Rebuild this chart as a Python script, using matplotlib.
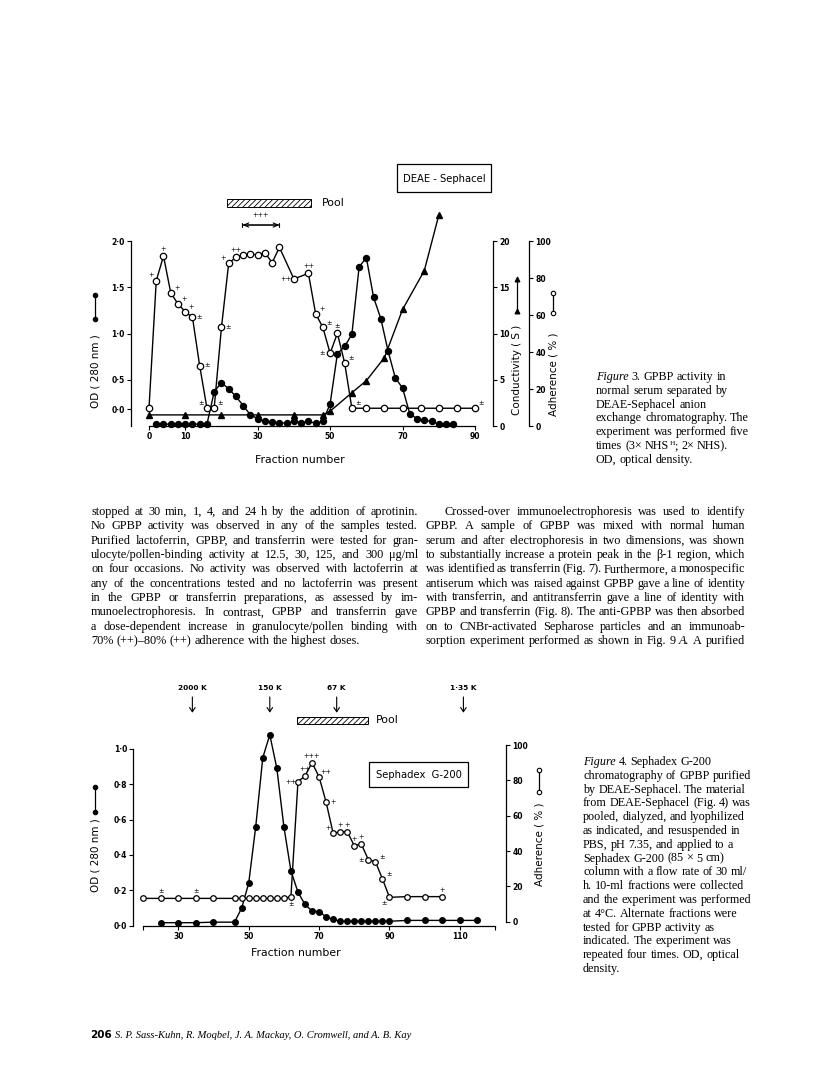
import matplotlib
matplotlib.use("Agg")
import matplotlib.pyplot as plt
from matplotlib.patches import Rectangle
from matplotlib.lines import Line2D

W, H = 816, 1078

# ---------------- Figure 3 : DEAE-Sephacel ----------------
f3_od_x = [2, 4, 6, 8, 10, 12, 14, 16, 18, 20, 22, 24, 26, 28, 30, 32, 34, 36, 38, 40, 42,
           44, 46, 48, 50, 52, 54, 56, 58, 60, 62, 64, 66, 68, 70, 72, 74, 76, 78, 80, 82, 84]
f3_od_y = [0.02, 0.02, 0.02, 0.02, 0.02, 0.02, 0.02, 0.02, 0.37, 0.47, 0.40, 0.32, 0.22, 0.12,
           0.08, 0.05, 0.04, 0.035, 0.03, 0.05, 0.035, 0.05, 0.03, 0.05, 0.24, 0.78, 0.86, 0.99,
           1.72, 1.82, 1.39, 1.16, 0.81, 0.52, 0.41, 0.13, 0.08, 0.06, 0.05, 0.02, 0.02, 0.02]

f3_cond_x = [0, 10, 20, 30, 40, 48, 50, 56, 60, 65, 70, 76, 80]
f3_cond_y = [1.2, 1.2, 1.2, 1.2, 1.2, 1.2, 1.6, 3.6, 4.9, 7.4, 12.6, 16.8, 22.8]

f3_adh_x = [0, 2, 4, 6, 8, 10, 12, 14, 16, 18, 20, 22, 24, 26, 28, 30, 32, 34, 36, 40, 44,
            46, 48, 50, 52, 54, 56, 60, 65, 70, 75, 80, 85, 90]
f3_adh_y = [9.6, 78.5, 91.9, 72, 66, 61.8, 58.7, 32.4, 9.6, 9.9, 53.3, 88, 91.2, 92.3, 92.8,
            92.6, 93.7, 88.3, 96.6, 79.5, 82.5, 60.7, 53.3, 39.3, 50.1, 34.2, 9.6, 9.6, 9.6,
            9.6, 9.6, 9.6, 9.6, 9.6]
f3_adh_sig = ['', '+', '+', '+', '+', '+', '±', '±', '±', '±', '±', '+', '++', '', '', '', '',
              '', '', '++', '++', '+', '±', '±', '±', '±', '±', '', '', '', '', '', '', '±']
f3_sig_pos = ['', 'ul', 'u', 'ur', 'ur', 'ur', 'r', 'r', 'ul', 'ur', 'r', 'ul', 'u', '', '', '',
              '', '', '', 'l', 'u', 'ur', 'ur', 'l', 'u', 'ur', 'ur', '', '', '', '', '', '', 'ur']
f3_xticks = [0, 10, 30, 50, 70, 90]
f3_pool = (21.6, 44.6)
f3_best = (25.8, 36)

# ---------------- Figure 4 : Sephadex G-200 ----------------
f4_od_x = [25, 30, 35, 40, 46, 48, 50, 52, 54, 56, 58, 60, 62, 64, 66, 68, 70, 72, 74, 76, 78,
           80, 82, 84, 86, 88, 90, 95, 100, 105, 110, 115]
f4_od_y = [0.017, 0.017, 0.017, 0.02, 0.02, 0.10, 0.24, 0.56, 0.95, 1.08, 0.89, 0.56, 0.31,
           0.19, 0.12, 0.083, 0.08, 0.05, 0.036, 0.025, 0.025, 0.025, 0.025, 0.025, 0.025,
           0.025, 0.025, 0.03, 0.03, 0.03, 0.03, 0.03]

f4_adh_x = [20, 25, 30, 35, 40, 46, 48, 50, 52, 54, 56, 58, 60, 62, 64, 66, 68, 70, 72, 74, 76,
            78, 80, 82, 84, 86, 88, 90, 95, 100, 105]
f4_adh_y = [13.2, 13.2, 13.2, 13.2, 13.2, 13.2, 13.2, 13.2, 13.2, 13.2, 13.2, 13.2, 13.2, 14.2,
            79.2, 82.5, 90, 82, 67.6, 50, 51, 51, 43, 44, 35, 34, 24.2, 13.8, 14.2, 14.2, 14.2]
f4_adh_sig = ['', '±', '', '±', '', '', '', '', '', '', '', '', '', '±', '++', '++', '+++',
              '++', '+', '+', '+', '+', '+', '+', '±', '±', '±', '±', '', '', '+']
f4_sig_pos = ['', 'u', '', 'u', '', '', '', '', '', '', '', '', '', 'd', 'l', 'u', 'u', 'ur',
              'r', 'ul', 'u', 'u', 'u', 'u', 'l', 'ur', 'ur', 'dl', '', '', 'u']
f4_xticks = [30, 50, 70, 90, 110]
f4_mw_x = [34, 56, 75, 111]
f4_mw_lab = ['2000 K', '150 K', '67 K', '1·35 K']
f4_pool = (63.7, 83.9)

# ---------------- page text ----------------
left_col = [
    "stopped at 30 min, 1, 4, and 24 h by the addition of aprotinin.",
    "No GPBP activity was observed in any of the samples tested.",
    "Purified lactoferrin, GPBP, and transferrin were tested for gran-",
    "ulocyte/pollen-binding activity at 12.5, 30, 125, and 300 μg/ml",
    "on four occasions. No activity was observed with lactoferrin at",
    "any of the concentrations tested and no lactoferrin was present",
    "in the GPBP or transferrin preparations, as assessed by im-",
    "munoelectrophoresis. In contrast, GPBP and transferrin gave",
    "a dose-dependent increase in granulocyte/pollen binding with",
    "70% (++)–80% (++) adherence with the highest doses.",
]
right_col = [
    "Crossed-over immunoelectrophoresis was used to identify",
    "GPBP. A sample of GPBP was mixed with normal human",
    "serum and after electrophoresis in two dimensions, was shown",
    "to substantially increase a protein peak in the β-1 region, which",
    "was identified as transferrin (Fig. 7). Furthermore, a monospecific",
    "antiserum which was raised against GPBP gave a line of identity",
    "with transferrin, and antitransferrin gave a line of identity with",
    "GPBP and transferrin (Fig. 8). The anti-GPBP was then absorbed",
    "on to CNBr-activated Sepharose particles and an immunoab-",
    "sorption experiment performed as shown in Fig. 9 _A. A purified",
]
cap3 = [
    "_Figure 3. GPBP activity in",
    "normal serum separated by",
    "DEAE-Sephacel anion",
    "exchange chromatography. The",
    "experiment was performed five",
    "times (3× NHS^H; 2× NHS).",
    "OD, optical density.",
]
cap4 = [
    "_Figure 4. Sephadex G-200",
    "chromatography of GPBP purified",
    "by DEAE-Sephacel. The material",
    "from DEAE-Sephacel (Fig. 4) was",
    "pooled, dialyzed, and lyophilized",
    "as indicated, and resuspended in",
    "PBS, pH 7.35, and applied to a",
    "Sephadex G-200 (85 × 5 cm)",
    "column with a flow rate of 30 ml/",
    "h. 10-ml fractions were collected",
    "and the experiment was performed",
    "at 4°C. Alternate fractions were",
    "tested for GPBP activity as",
    "indicated. The experiment was",
    "repeated four times. OD, optical",
    "density.",
]
footer = "S. P. Sass-Kuhn, R. Moqbel, J. A. Mackay, O. Cromwell, and A. B. Kay"

SANS = "DejaVu Sans"
SERIF = "Liberation Serif"
plt.rcParams["hatch.linewidth"] = 0.6
plt.rcParams["font.family"] = SANS

fig = plt.figure(figsize=(W / 100, H / 100), dpi=100)
renderer = fig.canvas.get_renderer()


def T(px, py, s, **kw):
    return fig.text(px / W, 1 - py / H, s, **kw)


def add_ax(l, t, r, b):
    return fig.add_axes([l / W, 1 - b / H, (r - l) / W, (b - t) / H])


def width(s, **kw):
    t = T(0, 0, s, **kw)
    w = t.get_window_extent(renderer).width
    t.remove()
    return w


def symbol(px, py0, py1, marker, mfc, ms):
    fig.add_artist(Line2D([px / W, px / W], [1 - py0 / H, 1 - py1 / H], transform=fig.transFigure,
                          color="k", lw=0.9, marker=marker, mfc=mfc, mec="k", ms=ms, mew=0.8))


def box(l, t, r, b, label):
    fig.add_artist(Rectangle((l / W, 1 - b / H), (r - l) / W, (b - t) / H, fill=False,
                             lw=0.9, ec="k", transform=fig.transFigure))
    T((l + r) / 2, (t + b) / 2 + 1, label, ha="center", va="center", fontsize=7.2)


OFF = {"u": (0, 5), "ul": (-4, 4), "ur": (4.5, 3.5), "r": (5, 0.5), "l": (-5.5, 0),
       "d": (0, -5.5), "dl": (-4, -4)}


def signif(ax, xs, ys, marks, pos):
    for x, y, m, p in zip(xs, ys, marks, pos):
        if m:
            ax.annotate(m, (x, y), xytext=OFF[p], textcoords="offset points", fontsize=4.8,
                        ha="center", va="center", annotation_clip=False)


def style_ax(ax):
    for s in ax.spines.values():
        s.set_linewidth(0.9)
    ax.tick_params(direction="out", length=3, width=0.8, labelsize=5.5, pad=1.5)
    for lab in ax.get_xticklabels() + ax.get_yticklabels():
        lab.set_fontweight("bold")


# ======================= chart 1 =======================
ax1 = add_ax(131, 160, 529, 426)
ax1.set_xlim(-4.97, 104.9)
ax1.set_ylim(0, 2.876)
ax1c = ax1.twinx()
ax1c.set_ylim(0, 28.76)
ax1a = ax1.twinx()
ax1a.set_ylim(0, 143.8)
for a in (ax1, ax1c, ax1a):
    a.patch.set_visible(False)
    for s in ("top", "left", "right", "bottom"):
        a.spines[s].set_visible(False)
ax1.spines["left"].set_visible(True)
ax1.spines["left"].set_bounds(0, 2.0)
ax1.spines["bottom"].set_visible(True)
ax1.spines["bottom"].set_bounds(0, 90)
ax1.set_xticks(f3_xticks)
ax1.set_yticks([0.18, 0.5, 1.0, 1.5, 2.0], ["0·0", "0·5", "1·0", "1·5", "2·0"])
ax1c.spines["right"].set_visible(True)
ax1c.spines["right"].set_position(("axes", 0.9095))
ax1c.spines["right"].set_bounds(0, 20)
ax1c.set_yticks([0, 5, 10, 15, 20])
ax1a.spines["right"].set_visible(True)
ax1a.spines["right"].set_bounds(0, 100)
ax1a.set_yticks([0, 20, 40, 60, 80, 100])
for a in (ax1, ax1c, ax1a):
    style_ax(a)

ax1.plot(f3_od_x, f3_od_y, "o-", color="k", ms=4.3, lw=1.0, clip_on=False)
ax1c.plot(f3_cond_x, f3_cond_y, "^-", color="k", ms=4.8, lw=1.0, clip_on=False)
ax1a.plot(f3_adh_x, f3_adh_y, "o-", color="k", mfc="white", ms=4.6, mew=0.9, lw=1.0,
          clip_on=False)
signif(ax1a, f3_adh_x, f3_adh_y, f3_adh_sig, f3_sig_pos)

ax1.add_patch(Rectangle((f3_pool[0], 2.368), f3_pool[1] - f3_pool[0], 0.086, fill=False,
                        hatch="//////", lw=0.7, clip_on=False))
ax1.text(f3_pool[1] + 3.1, 2.41, "Pool", fontsize=7.8, va="center")
ax1.annotate("", xy=(f3_best[0], 2.173), xytext=(f3_best[1], 2.173),
             arrowprops=dict(arrowstyle="<->,head_length=0.35,head_width=0.15", lw=0.8,
                             shrinkA=0, shrinkB=0))
ax1.annotate("", xy=(f3_best[0], 2.173), xytext=(f3_best[1], 2.173),
             arrowprops=dict(arrowstyle="|-|,widthA=0.15,widthB=0.15", lw=0.8,
                             shrinkA=0, shrinkB=0))
ax1.text(sum(f3_best) / 2, 2.28, "+++", fontsize=4.8, ha="center", va="center")

box(397, 164, 491, 192, "DEAE - Sephacel")
T(95, 371, "OD ( 280 nm )", rotation=90, ha="center", va="center", fontsize=7.5)
symbol(95, 295, 319, "o", "k", 3.2)
T(517, 370, "Conductivity ( S )", rotation=90, ha="center", va="center", fontsize=7.5)
symbol(517, 279, 311, "^", "k", 3.5)
T(553, 374, "Adherence ( % )", rotation=90, ha="center", va="center", fontsize=7.5)
symbol(553, 293, 313, "o", "white", 3.2)
T(300, 460, "Fraction number", ha="center", va="center", fontsize=7.8)

# ======================= chart 2 =======================
ax2 = add_ax(133.3, 680, 506, 925.7)
ax2.set_xlim(17.22, 123.1)
ax2.set_ylim(0, 1.39)
ax2a = ax2.twinx()
ax2a.set_ylim(-2.26, 136.8)
for a in (ax2, ax2a):
    a.patch.set_visible(False)
    for s in ("top", "left", "right", "bottom"):
        a.spines[s].set_visible(False)
ax2.spines["left"].set_visible(True)
ax2.spines["left"].set_bounds(0, 1.0)
ax2.spines["bottom"].set_visible(True)
ax2.spines["bottom"].set_bounds(20, 120)
ax2.set_xticks([20] + f4_xticks + [120], [""] + [str(v) for v in f4_xticks] + [""])
ax2.set_yticks([0, 0.2, 0.4, 0.6, 0.8, 1.0], ["0·0", "0·2", "0·4", "0·6", "0·8", "1·0"])
ax2a.spines["right"].set_visible(True)
ax2a.spines["right"].set_bounds(0, 100)
ax2a.set_yticks([0, 20, 40, 60, 80, 100])
for a in (ax2, ax2a):
    style_ax(a)

ax2.plot(f4_od_x, f4_od_y, "o-", color="k", ms=4.0, lw=1.0, clip_on=False)
ax2a.plot(f4_adh_x, f4_adh_y, "o-", color="k", mfc="white", ms=4.0, mew=0.9, lw=1.0,
          clip_on=False)
signif(ax2a, f4_adh_x, f4_adh_y, f4_adh_sig, f4_sig_pos)

for x, lab in zip(f4_mw_x, f4_mw_lab):
    ax2.annotate("", xy=(x, 1.205), xytext=(x, 1.294),
                 arrowprops=dict(arrowstyle="->,head_length=0.3,head_width=0.2", lw=0.8,
                                 shrinkA=0, shrinkB=0), annotation_clip=False)
    ax2.text(x, 1.345, lab, ha="center", va="center", fontsize=5.3, fontweight="bold",
             clip_on=False)

ax2.add_patch(Rectangle((f4_pool[0], 1.141), f4_pool[1] - f4_pool[0], 0.04, fill=False,
                        hatch="//////", lw=0.7, clip_on=False))
ax2.text(f4_pool[1] + 2.2, 1.161, "Pool", fontsize=7.8, va="center")

box(369.3, 761.7, 467.7, 786.7, "Sephadex  G-200")
T(95, 855, "OD ( 280 nm )", rotation=90, ha="center", va="center", fontsize=7.5)
symbol(95, 787, 812, "o", "k", 3.2)
T(539, 844, "Adherence ( % )", rotation=90, ha="center", va="center", fontsize=7.5)
symbol(539, 770, 792, "o", "white", 3.2)
T(296, 953, "Fraction number", ha="center", va="center", fontsize=7.8)


# ======================= page text =======================
def tokens(line):
    out = []
    for w in line.split(" "):
        if w.startswith("_"):
            out.append((w[1:], "italic"))
        else:
            out.append((w, "normal"))
    return out


def set_line(line, x0, x1, y, size, justify):
    toks = tokens(line)
    kws = [dict(fontsize=size, family=SERIF, style=st) for _, st in toks]
    ws = [width(w, **k) for (w, _), k in zip(toks, kws)]
    if justify and len(toks) > 1:
        gap = (x1 - x0 - sum(ws)) / (len(toks) - 1)
    else:
        gap = size * 100 / 72 * 0.25
    x = x0
    for (w, _), k, wd in zip(toks, kws, ws):
        if "^" in w:
            base, sup = w.split("^")
            T(x, y, base, va="baseline", **k)
            bw = width(base, **k)
            k2 = dict(k, fontsize=size * 0.62)
            T(x + bw, y - size * 0.5, sup[0], va="baseline", **k2)
            sw = width(sup[0], **k2)
            T(x + bw + sw, y, sup[1:], va="baseline", **k)
            wd = bw + sw + width(sup[1:], **k)
        else:
            T(x, y, w, va="baseline", **k)
        x += wd + gap


BODY = 8.8
CAP = 8.7
LEAD = 14.33
for i, line in enumerate(left_col):
    set_line(line, 91, 418, 515 + i * LEAD, BODY, i < len(left_col) - 1)
for i, line in enumerate(right_col):
    set_line(line, 445 if i == 0 else 426, 745, 515 + i * LEAD, BODY, True)
for i, line in enumerate(cap3):
    set_line(line, 596, 760, 380 + i * 13.8, CAP, False)
for i, line in enumerate(cap4):
    set_line(line, 583, 760, 765 + i * 13.8, CAP, False)

T(90, 1038, "206", fontsize=7.5, fontweight="bold", family=SANS, va="baseline")
T(115, 1038, footer, fontsize=7.6, family=SERIF, style="italic", va="baseline")

fig.savefig("out.png", dpi=100, facecolor="white")
